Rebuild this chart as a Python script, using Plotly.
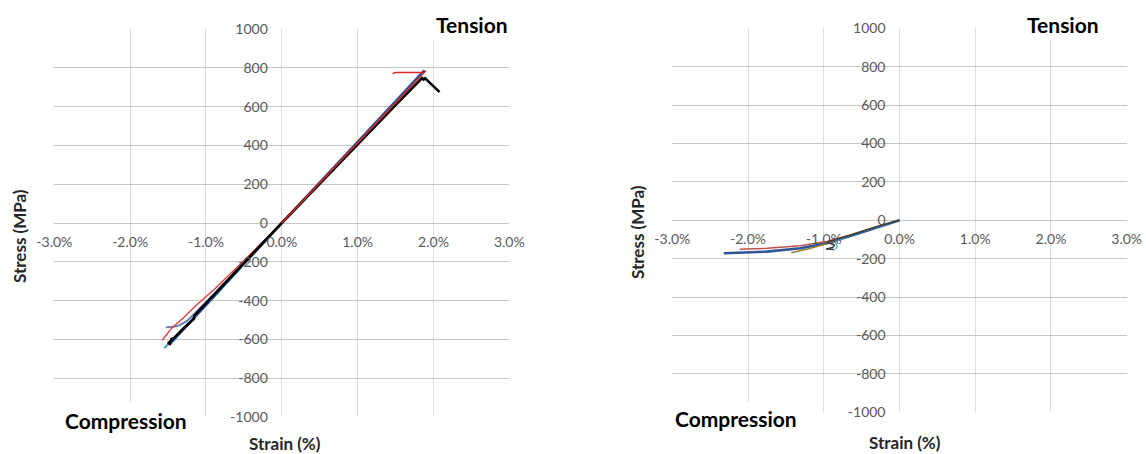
import plotly.graph_objects as go

W, H = 1146, 454

# ---- data (strain in %, stress in MPa) ----
x_tickvals = [-3, -2, -1, 0, 1, 2, 3]
x_ticktext = ["-3.0%", "-2.0%", "-1.0%", "0.0%", "1.0%", "2.0%", "3.0%"]
y_tickvals = [-1000, -800, -600, -400, -200, 0, 200, 400, 600, 800, 1000]
y_ticktext = ["-1000", "-800", "-600", "-400", "-200", "0", "200", "400", "600", "800", "1000"]

# left chart: tension tests
ten_black_x = [0, 0.5, 1.0, 1.5, 1.85, 1.87, 1.89, 1.92, 1.97, 2.03, 2.08]
ten_black_y = [0, 204, 406, 608, 747, 740, 746, 733, 716, 694, 675]
ten_navy_x = [0, 0.5, 1.0, 1.5, 1.88, 1.85]
ten_navy_y = [0, 210, 418, 628, 787, 770]
ten_red_x = [0, 0.5, 1.0, 1.5, 1.9, 1.87, 1.5, 1.46]
ten_red_y = [0, 206, 412, 618, 785, 777, 776, 770]

# left chart: compression tests
com_red_x = [0, -0.3, -0.6, -0.9, -1.15, -1.30, -1.37, -1.45, -1.52, -1.58]
com_red_y = [0, -118, -232, -345, -432, -490, -515, -541, -576, -605]
com_slate_x = [0, -0.5, -1.0, -1.25, -1.35, -1.41, -1.53]
com_slate_y = [0, -205, -408, -505, -528, -533, -538]
com_black_x = [0, -0.5, -1.0, -1.15, -1.17, -1.15, -1.3, -1.42, -1.47, -1.43, -1.50, -1.46]
com_black_y = [0, -207, -414, -476, -500, -490, -545, -592, -600, -598, -619, -625]
com_navy_x = [0, -0.5, -1.0, -1.48]
com_navy_y = [0, -212, -420, -628]
com_lblue_x = [0, -0.5, -1.0, -1.55]
com_lblue_y = [0, -214, -425, -645]

# right chart: compression tests (nonlinear)
r_blue_x = [0, -0.3, -0.65, -0.96, -1.31, -1.75, -2.32]
r_blue_y = [0, -36, -82, -120, -146, -163, -172]
r_red_x = [0, -0.3, -0.65, -0.96, -1.31, -1.75, -2.11]
r_red_y = [0, -33, -76, -110, -132, -146, -151]
r_olive_x = [0, -0.3, -0.65, -0.96, -1.2, -1.43]
r_olive_y = [0, -33, -78, -122, -148, -169]
r_dark_x = [0, -0.3, -0.65, -0.96, -0.90, -0.86, -0.88, -0.97, -0.86]
r_dark_y = [0, -34, -78, -114, -122, -130, -141, -150, -152]
r_lblue_x = [0, -0.3, -0.6, -0.8, -0.85, -0.82, -0.84]
r_lblue_y = [0, -35, -72, -102, -114, -134, -150]

left = [
    (com_slate_x, com_slate_y, "#6b7fae", 2),
    (com_lblue_x, com_lblue_y, "#4ba6dc", 2.2),
    (com_navy_x, com_navy_y, "#2a55a0", 2),
    (com_red_x, com_red_y, "#e03a3a", 1.3),
    (com_black_x, com_black_y, "#000000", 2.6),
    (ten_navy_x, ten_navy_y, "#1f4e9a", 2.4),
    (ten_black_x, ten_black_y, "#000000", 2.6),
    (ten_red_x, ten_red_y, "#e02828", 1.5),
]
right = [
    (r_blue_x, r_blue_y, "#2f5597", 2.6),
    (r_red_x, r_red_y, "#c0504d", 1.5),
    (r_olive_x, r_olive_y, "#8c7d3a", 1.4),
    (r_lblue_x, r_lblue_y, "#4ba6dc", 1.3),
    (r_dark_x, r_dark_y, "#3a3a3a", 1.5),
]

fig = go.Figure()
for xs, ys, c, w in left:
    fig.add_trace(go.Scatter(x=xs, y=ys, mode="lines", line=dict(color=c, width=w),
                             xaxis="x", yaxis="y", showlegend=False, hoverinfo="skip"))
for xs, ys, c, w in right:
    fig.add_trace(go.Scatter(x=xs, y=ys, mode="lines", line=dict(color=c, width=w),
                             xaxis="x2", yaxis="y2", showlegend=False, hoverinfo="skip"))


# window pixel -> paper fraction
def px(x):
    return x / W


def py(y):
    return 1 - y / H


tick_font = dict(family="Lato", size=14, color="#595959")


def xaxis_cfg(dom, pos):
    return dict(domain=dom, range=[-3, 3], anchor="free", position=pos,
                tickvals=x_tickvals, ticktext=x_ticktext, tickfont=tick_font,
                showgrid=True, gridcolor="#dcdcdc", gridwidth=1, zeroline=False,
                showline=False, ticks="", ticklabelstandoff=9, fixedrange=True,
                automargin=False)


def yaxis_cfg(dom, pos):
    return dict(domain=dom, range=[-1000, 1000], anchor="free", position=pos,
                tickvals=y_tickvals, ticktext=y_ticktext, tickfont=tick_font,
                showgrid=True, gridcolor="#c6c6c6", gridwidth=1, zeroline=False,
                showline=False, ticks="", ticklabelstandoff=14, fixedrange=True,
                automargin=False)


ldom_x = [px(54.3), px(509.3)]
ldom_y = [py(417), py(29)]
rdom_x = [px(672.3), px(1126.7)]
rdom_y = [py(412.3), py(28.3)]

fig.update_layout(
    width=W, height=H,
    margin=dict(l=0, r=0, t=0, b=0, autoexpand=False),
    paper_bgcolor="white", plot_bgcolor="white",
    xaxis=xaxis_cfg(ldom_x, (ldom_y[0] + ldom_y[1]) / 2),
    yaxis=yaxis_cfg(ldom_y, (ldom_x[0] + ldom_x[1]) / 2),
    xaxis2=xaxis_cfg(rdom_x, (rdom_y[0] + rdom_y[1]) / 2),
    yaxis2=yaxis_cfg(rdom_y, (rdom_x[0] + rdom_x[1]) / 2),
)

# white boxes behind the corner labels
for x0, x1, y0, y1 in [(412, 520, 8, 40), (62, 192, 402, 440),
                       (1003, 1124, 8, 40), (668, 801, 402, 440)]:
    fig.add_shape(type="rect", xref="paper", yref="paper",
                  x0=px(x0), x1=px(x1), y0=py(y1), y1=py(y0),
                  fillcolor="white", line=dict(width=0), layer="above")

bold = dict(family="Lato", size=21, color="#000000")
title_font = dict(family="Lato", size=17, color="#262626")
notes = [
    ("<b>Tension</b>", 471.5, 25, bold, 0),
    ("<b>Compression</b>", 126, 420, bold, 0),
    ("<b>Tension</b>", 1063.4, 25, bold, 0),
    ("<b>Compression</b>", 736, 418, bold, 0),
    ("<b>Stress (MPa)</b>", 19, 236, title_font, -90),
    ("<b>Stress (MPa)</b>", 637, 232, title_font, -90),
    ("<b>Strain (%)</b>", 285, 443, title_font, 0),
    ("<b>Strain (%)</b>", 905.5, 442, title_font, 0),
]
for txt, x, y, f, ang in notes:
    fig.add_annotation(text=txt, xref="paper", yref="paper", x=px(x), y=py(y),
                       xanchor="center", yanchor="middle", showarrow=False,
                       font=f, textangle=ang)

fig.write_html("out.html", config={"displayModeBar": False},
               post_script="document.body.style.margin='0';document.body.style.overflow='hidden';")
